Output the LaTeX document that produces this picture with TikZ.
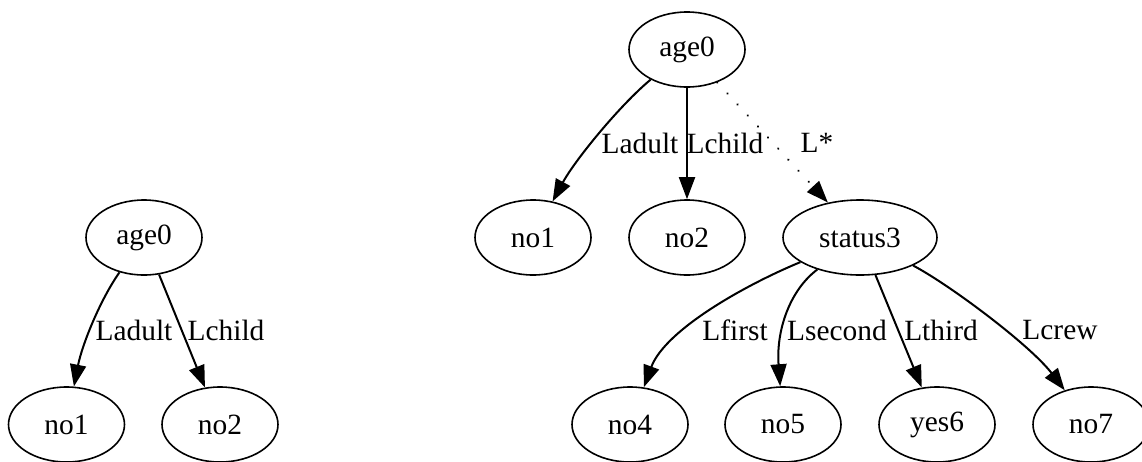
\documentclass[tikz,border=0pt]{standalone}
\usepackage{fontspec}
\setmainfont{Liberation Serif}
\usetikzlibrary{shapes.geometric,arrows.meta}
\begin{document}
\begin{tikzpicture}[x=1pt,y=-1pt,
  treenode/.style={draw,ellipse,line width=1.6pt,minimum width=116pt,minimum height=75pt,inner sep=0pt,font=\fontsize{29.4}{32}\selectfont},
  widenode/.style={treenode,minimum width=154pt},
  edgelabel/.style={inner sep=0pt,font=\fontsize{29.4}{32}\selectfont},
  link/.style={line width=2pt,-{Triangle[length=22pt,width=16pt]}},
  dottedlink/.style={link,line width=2.4pt,line cap=round,dash pattern=on 0.1pt off 14.9pt}]
\useasboundingbox (0,0) rectangle (1142,461);

% first tree
\node[treenode] (a0) at (144,237.5) {age0};
\node[treenode] (a1) at (66.5,424.5) {no1};
\node[treenode] (a2) at (220,424.5) {no2};
\draw[link] (a0) .. controls (100,300) and (82,345) .. (a1);
\draw[link] (a0) -- (a2);
\node[edgelabel] (la1) at (134,330) {Ladult};
\node[edgelabel] (la2) at (226,330) {Lchild};

% second tree
\node[treenode] (b0) at (687,49.5) {age0};
\node[treenode] (b1) at (533,237.5) {no1};
\node[treenode] (b2) at (687,237.5) {no2};
\node[widenode] (b3) at (860,237.5) {status3};
\node[treenode] (b4) at (630,424.5) {no4};
\node[treenode] (b5) at (783,424.5) {no5};
\node[treenode] (b6) at (937,424.5) {yes6};
\node[treenode] (b7) at (1091,424.5) {no7};

\draw[link] (b0) .. controls (620,105) and (575,160) .. (b1);
\draw[link] (b0) -- (b2);
\draw[dottedlink] (b0) -- (b3);
\draw[link] (b3) .. controls (745,285) and (665,330) .. (b4);
\draw[link] (b3) .. controls (790,290) and (776,330) .. (b5);
\draw[link] (b3) -- (b6);
\draw[link] (b3) .. controls (950,285) and (1030,345) .. (b7);

\node[edgelabel] (lb1) at (640,143) {Ladult};
\node[edgelabel] (lb2) at (725,143) {Lchild};
\node[edgelabel] (lb3) at (817,143) {L*};
\node[edgelabel] (lb4) at (735,330) {Lfirst};
\node[edgelabel] (lb5) at (837,330) {Lsecond};
\node[edgelabel] (lb6) at (941,330) {Lthird};
\node[edgelabel] (lb7) at (1060,330) {Lcrew};
\end{tikzpicture}
\end{document}
